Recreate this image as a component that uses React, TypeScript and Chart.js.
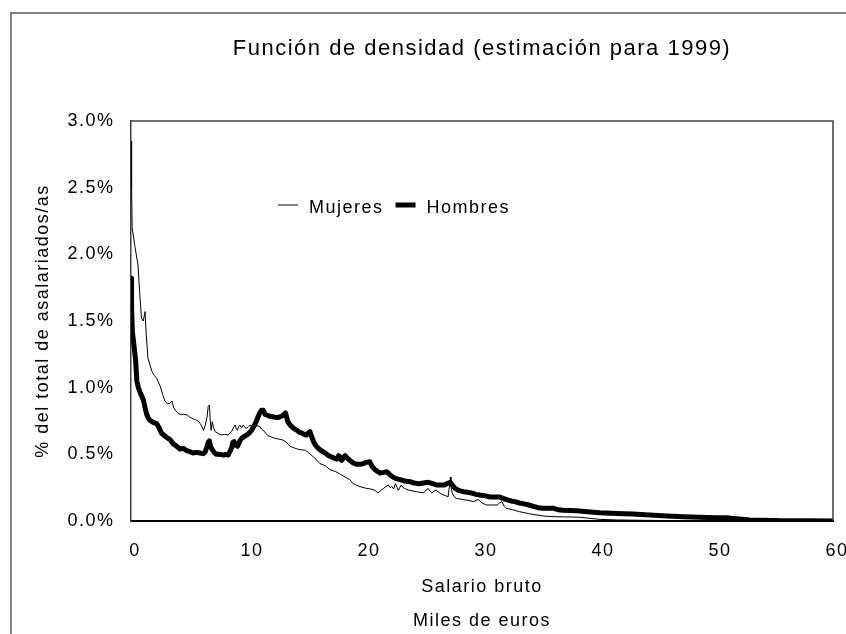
import React, { useEffect, useRef } from 'react';
import { Chart, registerables } from 'chart.js';

Chart.register(...registerables);

const TITLE = 'Función de densidad (estimación para 1999)';
const X_TITLE = 'Salario bruto';
const X_SUBTITLE = 'Miles de euros';
const Y_TITLE = '% del total de asalariados/as';
const SERIES_LABELS = ['Mujeres', 'Hombres'];
const X_TICKS = [0, 10, 20, 30, 40, 50, 60];
const Y_TICKS = [0, 0.5, 1, 1.5, 2, 2.5, 3];

const mujeresX = [
  0, 0.05, 0.1, 0.35, 0.6, 0.75, 0.9, 1.05, 1.2, 1.3, 1.45, 1.62, 1.8, 2.0, 2.2, 2.5, 2.7, 2.9, 3.1, 3.3,
  3.5, 3.65, 3.8, 4.0, 4.2, 4.5, 4.8, 5.0, 5.2, 5.5, 5.75, 6.0, 6.2, 6.35, 6.5, 6.6, 6.7, 6.78, 6.85, 6.95,
  7.05, 7.2, 7.5, 7.75, 8.0, 8.3, 8.45, 8.6, 8.75, 8.9, 9.0, 9.1, 9.2, 9.3, 9.45, 9.6, 9.75, 9.9, 10.05, 10.2,
  10.35, 10.45, 10.7, 11.0, 11.15, 11.3, 11.5, 11.7, 12.0, 12.3, 12.6, 12.9, 13.1, 13.3, 13.45, 13.6, 13.9, 14.2, 14.5, 14.9,
  15.2, 15.6, 15.9, 16.15, 16.6, 17.0, 17.5, 17.9, 18.3, 18.7, 19.0, 19.5, 20.1, 20.5, 20.85, 21.1, 21.35, 21.6, 21.8, 22.0,
  22.15, 22.3, 22.45, 22.6, 22.75, 22.85, 23.0, 23.1, 23.25, 23.4, 23.6, 23.85, 24.1, 24.4, 24.7, 25.0, 25.2, 25.4, 25.55, 25.7,
  25.9, 26.1, 26.4, 26.7, 26.9, 27.1, 27.2, 27.3, 27.35, 27.45, 27.6, 27.8, 28.1, 28.4, 28.8, 29.3, 29.5, 29.7, 30.0, 30.4,
  30.9, 31.3, 31.5, 31.7, 31.9, 32.1, 32.6, 33.2, 34.0, 34.7, 35.5, 36.4, 37.5, 38.4, 39.2, 40.1, 41.5, 43.0, 45.0, 47.0,
  49.7, 52, 55, 60,
];
const mujeresY = [
  2.85, 2.5, 2.2, 2.05, 1.92, 1.7, 1.52, 1.5, 1.57, 1.4, 1.22, 1.17, 1.12, 1.09, 1.07, 1.01, 0.95, 0.9, 0.88, 0.88,
  0.9, 0.85, 0.83, 0.81, 0.8, 0.8, 0.795, 0.78, 0.77, 0.76, 0.75, 0.72, 0.68, 0.72, 0.78, 0.86, 0.87, 0.75, 0.68, 0.745,
  0.7, 0.67, 0.655, 0.645, 0.65, 0.645, 0.66, 0.67, 0.7, 0.72, 0.69, 0.68, 0.71, 0.72, 0.7, 0.72, 0.7, 0.695, 0.71, 0.72,
  0.7, 0.695, 0.715, 0.71, 0.69, 0.68, 0.66, 0.64, 0.63, 0.62, 0.615, 0.61, 0.6, 0.59, 0.575, 0.56, 0.55, 0.54, 0.535, 0.53,
  0.51, 0.48, 0.455, 0.43, 0.415, 0.385, 0.37, 0.35, 0.33, 0.31, 0.28, 0.26, 0.245, 0.24, 0.23, 0.21, 0.23, 0.245, 0.26, 0.27,
  0.25, 0.26, 0.24, 0.28, 0.25, 0.23, 0.255, 0.27, 0.25, 0.245, 0.235, 0.23, 0.225, 0.22, 0.215, 0.21, 0.23, 0.245, 0.225, 0.21,
  0.225, 0.23, 0.21, 0.195, 0.19, 0.18, 0.25, 0.33, 0.26, 0.21, 0.185, 0.17, 0.165, 0.16, 0.155, 0.145, 0.155, 0.16, 0.135, 0.12,
  0.12, 0.12, 0.135, 0.145, 0.11, 0.095, 0.085, 0.07, 0.055, 0.045, 0.035, 0.032, 0.03, 0.028, 0.02, 0.012, 0.008, 0.006, 0.004, 0.003,
  0.001, 0, 0, 0,
];

const hombresX = [
  0, 0.05, 0.12, 0.25, 0.4, 0.5, 0.63, 0.8, 1.05, 1.2, 1.34, 1.5, 1.62, 1.9, 2.2, 2.4, 2.6, 2.8, 3.0, 3.33,
  3.6, 3.9, 4.19, 4.47, 4.7, 5.04, 5.3, 5.6, 5.9, 6.18, 6.35, 6.47, 6.6, 6.7, 6.8, 6.98, 7.15, 7.3, 7.6, 7.9,
  8.1, 8.3, 8.45, 8.6, 8.7, 8.8, 8.95, 9.1, 9.3, 9.45, 9.7, 9.9, 10.1, 10.3, 10.5, 10.7, 10.85, 11.0, 11.15, 11.3,
  11.45, 11.6, 11.9, 12.2, 12.5, 12.7, 12.95, 13.2, 13.3, 13.4, 13.65, 13.9, 14.2, 14.4, 14.6, 14.8, 15.0, 15.15, 15.3, 15.45,
  15.6, 15.8, 16.0, 16.3, 16.6, 16.9, 17.15, 17.4, 17.6, 17.75, 17.9, 18.0, 18.15, 18.3, 18.45, 18.7, 19.0, 19.3, 19.6, 19.85,
  20.1, 20.4, 20.6, 20.85, 21.1, 21.3, 21.6, 21.85, 22.1, 22.3, 22.6, 23.0, 23.4, 23.85, 24.2, 24.6, 25.0, 25.4, 25.8, 26.1,
  26.5, 26.8, 27.0, 27.3, 27.5, 27.7, 28.0, 28.4, 28.8, 29.1, 29.5, 29.8, 30.2, 30.7, 31.1, 31.5, 31.8, 32.1, 32.5, 32.8,
  33.2, 33.5, 34.0, 34.4, 34.8, 35.2, 35.6, 36.1, 36.5, 36.9, 37.5, 38.1, 39.0, 40.1, 41.5, 42.9, 44.3, 45.8, 47.2, 48.6,
  50.0, 51.0, 51.2, 52.0, 52.9, 54.0, 55.7, 57.5, 60,
];
const hombresY = [
  1.82, 1.6, 1.42, 1.32, 1.2, 1.05, 1.0, 0.96, 0.91, 0.85, 0.8, 0.77, 0.755, 0.74, 0.73, 0.7, 0.66, 0.645, 0.63, 0.61,
  0.58, 0.56, 0.54, 0.545, 0.53, 0.52, 0.51, 0.515, 0.51, 0.505, 0.52, 0.55, 0.59, 0.6, 0.56, 0.53, 0.51, 0.5, 0.5, 0.495,
  0.5, 0.495, 0.52, 0.55, 0.59, 0.595, 0.57, 0.56, 0.6, 0.62, 0.635, 0.645, 0.66, 0.68, 0.71, 0.745, 0.78, 0.81, 0.83, 0.83,
  0.8, 0.795, 0.785, 0.78, 0.775, 0.78, 0.79, 0.81, 0.78, 0.745, 0.715, 0.695, 0.68, 0.665, 0.66, 0.65, 0.645, 0.66, 0.67, 0.63,
  0.595, 0.565, 0.545, 0.525, 0.51, 0.49, 0.48, 0.47, 0.465, 0.49, 0.48, 0.455, 0.47, 0.49, 0.475, 0.455, 0.435, 0.425, 0.425, 0.43,
  0.44, 0.445, 0.41, 0.385, 0.37, 0.36, 0.365, 0.37, 0.35, 0.335, 0.32, 0.31, 0.3, 0.295, 0.285, 0.28, 0.285, 0.29, 0.28, 0.27,
  0.27, 0.27, 0.28, 0.29, 0.265, 0.245, 0.23, 0.22, 0.215, 0.21, 0.2, 0.195, 0.19, 0.18, 0.18, 0.18, 0.17, 0.16, 0.15, 0.145,
  0.135, 0.13, 0.12, 0.11, 0.1, 0.095, 0.095, 0.095, 0.085, 0.08, 0.078, 0.077, 0.07, 0.062, 0.056, 0.052, 0.045, 0.037, 0.032, 0.028,
  0.024, 0.025, 0.02, 0.015, 0.008, 0.005, 0.002, 0.001, 0,
];

const FONT_FAMILY = "'Liberation Sans', Arial, Helvetica, sans-serif";

const toPoints = (xs: number[], ys: number[]) => xs.map((x, i) => ({ x, y: ys[i] }));

const decorPlugin = {
  id: 'decor',
  beforeDraw(chart: any) {
    const ctx = chart.ctx;
    ctx.letterSpacing = '1.5px';
    ctx.save();
    ctx.fillStyle = '#ffffff';
    ctx.fillRect(0, 0, chart.width, chart.height);
    ctx.strokeStyle = '#808080';
    ctx.lineWidth = 2;
    ctx.beginPath();
    ctx.moveTo(11, chart.height);
    ctx.lineTo(11, 13);
    ctx.lineTo(chart.width, 13);
    ctx.stroke();
    ctx.restore();
  },
  afterDraw(chart: any) {
    const { ctx, chartArea: a } = chart;
    ctx.save();
    ctx.strokeStyle = '#404040';
    ctx.lineWidth = 1.5;
    ctx.beginPath();
    ctx.moveTo(a.left, a.top);
    ctx.lineTo(a.right, a.top);
    ctx.lineTo(a.right, a.bottom);
    ctx.stroke();

    // legend inside plot area
    ctx.font = `18px ${FONT_FAMILY}`;
    ctx.textBaseline = 'middle';
    ctx.textAlign = 'left';
    ctx.fillStyle = '#000';
    let x = a.left + 147;
    const yLine = a.top + 84;
    const yText = a.top + 87;
    chart.data.datasets.forEach((ds: any) => {
      ctx.strokeStyle = ds.borderColor;
      ctx.lineWidth = ds.borderWidth;
      ctx.lineCap = 'butt';
      ctx.beginPath();
      ctx.moveTo(x, yLine);
      ctx.lineTo(x + 20, yLine);
      ctx.stroke();
      ctx.fillText(ds.label, x + 31, yText);
      x = x + 31 + ctx.measureText(ds.label).width + 12;
    });
    ctx.restore();
  },
};

export default function App() {
  const canvasRef = useRef<HTMLCanvasElement | null>(null);

  useEffect(() => {
    if (!canvasRef.current) return;
    const chart = new Chart(canvasRef.current, {
      type: 'line',
      data: {
        datasets: [
          {
            label: SERIES_LABELS[0],
            data: toPoints(mujeresX, mujeresY),
            borderColor: '#000000',
            borderWidth: 1,
            pointRadius: 0,
            tension: 0,
            fill: false,
            borderJoinStyle: 'round',
            order: 1,
          },
          {
            label: SERIES_LABELS[1],
            data: toPoints(hombresX, hombresY),
            borderColor: '#000000',
            borderWidth: 5,
            pointRadius: 0,
            tension: 0,
            fill: false,
            borderJoinStyle: 'round',
            borderCapStyle: 'round',
            order: 0,
          },
        ],
      },
      options: {
        responsive: false,
        animation: false,
        devicePixelRatio: 1,
        layout: { padding: { left: 0, right: 13, top: 0, bottom: 0 } },
        plugins: {
          legend: { display: false },
          tooltip: { enabled: false },
          title: {
            display: true,
            text: TITLE,
            fullSize: false,
            color: '#000',
            font: { family: FONT_FAMILY, size: 22, weight: 'normal', lineHeight: 1.2 },
            padding: { top: 35.3, bottom: 59.3 },
          },
          subtitle: {
            display: true,
            position: 'bottom',
            text: X_SUBTITLE,
            fullSize: false,
            color: '#000',
            font: { family: FONT_FAMILY, size: 18, weight: 'normal', lineHeight: 1.2 },
            padding: { top: 12.4, bottom: 2.2 },
          },
        },
        scales: {
          x: {
            type: 'linear',
            min: 0,
            max: 60,
            afterBuildTicks: (scale: any) => {
              scale.ticks = X_TICKS.map((v) => ({ value: v }));
            },
            afterFit: (scale: any) => {
              scale.height = 76.8;
              scale.paddingLeft = 0;
              scale.paddingRight = 0;
            },
            grid: { display: false, drawTicks: false },
            border: { display: true, color: '#000', width: 2 },
            ticks: {
              color: '#000',
              padding: 19,
              maxRotation: 0,
              labelOffset: 4,
              font: { family: FONT_FAMILY, size: 18 },
            },
            title: {
              display: true,
              text: X_TITLE,
              color: '#000',
              font: { family: FONT_FAMILY, size: 18, lineHeight: 1.2 },
              padding: { top: 0, bottom: 0 },
            },
          },
          y: {
            type: 'linear',
            min: 0,
            max: 3,
            afterBuildTicks: (scale: any) => {
              scale.ticks = Y_TICKS.map((v) => ({ value: v }));
            },
            afterFit: (scale: any) => {
              scale.width = 131;
              scale.paddingTop = 0;
              scale.paddingBottom = 0;
            },
            grid: { display: false, drawTicks: false },
            border: { display: true, color: '#404040', width: 1.5 },
            ticks: {
              color: '#000',
              padding: 16.5,
              font: { family: FONT_FAMILY, size: 18 },
              callback: (v: any) => Number(v).toFixed(1) + '%',
            },
            title: {
              display: true,
              text: Y_TITLE,
              color: '#000',
              font: { family: FONT_FAMILY, size: 18, lineHeight: 1.2 },
              padding: { top: 32.4, bottom: 0 },
            },
          },
        },
      },
      plugins: [decorPlugin],
    } as any);
    return () => chart.destroy();
  }, []);

  return (
    <div style={{ position: 'fixed', left: 0, top: 0, width: 846, height: 634, background: '#fff' }}>
      <canvas ref={canvasRef} width={846} height={634} style={{ display: 'block' }} />
    </div>
  );
}
